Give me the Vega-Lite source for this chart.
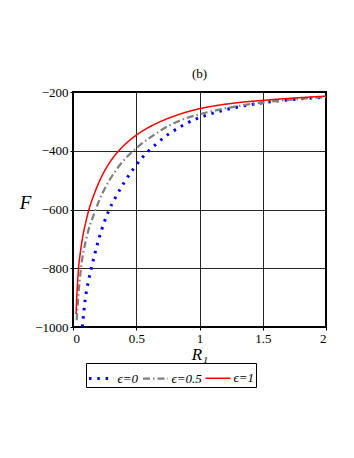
{
  "$schema": "https://vega.github.io/schema/vega-lite/v6.json",
  "width": 253,
  "height": 235,
  "autosize": {"type": "none"},
  "padding": {"left": 73, "top": 92, "right": 28, "bottom": 131},
  "background": "white",
  "title": {"text": "(b)", "font": "Times New Roman, Liberation Serif, DejaVu Serif, serif", "fontSize": 13, "fontWeight": "normal", "color": "black", "offset": 5},
  "data": {"values": [
    {"R": 0.074, "F": -1000, "eps": "ϵ=0"},
    {"R": 0.097, "F": -905, "eps": "ϵ=0"},
    {"R": 0.12, "F": -848, "eps": "ϵ=0"},
    {"R": 0.145, "F": -800, "eps": "ϵ=0"},
    {"R": 0.203, "F": -702, "eps": "ϵ=0"},
    {"R": 0.282, "F": -605, "eps": "ϵ=0"},
    {"R": 0.34, "F": -556, "eps": "ϵ=0"},
    {"R": 0.406, "F": -507, "eps": "ϵ=0"},
    {"R": 0.477, "F": -462, "eps": "ϵ=0"},
    {"R": 0.55, "F": -422, "eps": "ϵ=0"},
    {"R": 0.65, "F": -380, "eps": "ϵ=0"},
    {"R": 0.75, "F": -345, "eps": "ϵ=0"},
    {"R": 0.85, "F": -318, "eps": "ϵ=0"},
    {"R": 0.95, "F": -296, "eps": "ϵ=0"},
    {"R": 1.056, "F": -279, "eps": "ϵ=0"},
    {"R": 1.249, "F": -256, "eps": "ϵ=0"},
    {"R": 1.447, "F": -240, "eps": "ϵ=0"},
    {"R": 1.644, "F": -229, "eps": "ϵ=0"},
    {"R": 1.842, "F": -222, "eps": "ϵ=0"},
    {"R": 2.0, "F": -218, "eps": "ϵ=0"},
    {"R": 0.029, "F": -977, "eps": "ϵ=0.5"},
    {"R": 0.041, "F": -900, "eps": "ϵ=0.5"},
    {"R": 0.063, "F": -800, "eps": "ϵ=0.5"},
    {"R": 0.105, "F": -700, "eps": "ϵ=0.5"},
    {"R": 0.178, "F": -602, "eps": "ϵ=0.5"},
    {"R": 0.208, "F": -568, "eps": "ϵ=0.5"},
    {"R": 0.261, "F": -521, "eps": "ϵ=0.5"},
    {"R": 0.34, "F": -466, "eps": "ϵ=0.5"},
    {"R": 0.445, "F": -413, "eps": "ϵ=0.5"},
    {"R": 0.52, "F": -384, "eps": "ϵ=0.5"},
    {"R": 0.62, "F": -352, "eps": "ϵ=0.5"},
    {"R": 0.761, "F": -314, "eps": "ϵ=0.5"},
    {"R": 0.87, "F": -293, "eps": "ϵ=0.5"},
    {"R": 1.0, "F": -276, "eps": "ϵ=0.5"},
    {"R": 1.25, "F": -252, "eps": "ϵ=0.5"},
    {"R": 1.5, "F": -236, "eps": "ϵ=0.5"},
    {"R": 1.75, "F": -225, "eps": "ϵ=0.5"},
    {"R": 2.0, "F": -217, "eps": "ϵ=0.5"},
    {"R": 0.024, "F": -956, "eps": "ϵ=1"},
    {"R": 0.032, "F": -880, "eps": "ϵ=1"},
    {"R": 0.042, "F": -810, "eps": "ϵ=1"},
    {"R": 0.06, "F": -740, "eps": "ϵ=1"},
    {"R": 0.08, "F": -685, "eps": "ϵ=1"},
    {"R": 0.1, "F": -645, "eps": "ϵ=1"},
    {"R": 0.123, "F": -605, "eps": "ϵ=1"},
    {"R": 0.163, "F": -553, "eps": "ϵ=1"},
    {"R": 0.213, "F": -500, "eps": "ϵ=1"},
    {"R": 0.281, "F": -446, "eps": "ϵ=1"},
    {"R": 0.36, "F": -401, "eps": "ϵ=1"},
    {"R": 0.43, "F": -371, "eps": "ϵ=1"},
    {"R": 0.5, "F": -347, "eps": "ϵ=1"},
    {"R": 0.6, "F": -320, "eps": "ϵ=1"},
    {"R": 0.7, "F": -299, "eps": "ϵ=1"},
    {"R": 0.8, "F": -282, "eps": "ϵ=1"},
    {"R": 0.9, "F": -268, "eps": "ϵ=1"},
    {"R": 1.0, "F": -257, "eps": "ϵ=1"},
    {"R": 1.25, "F": -239, "eps": "ϵ=1"},
    {"R": 1.5, "F": -228.5, "eps": "ϵ=1"},
    {"R": 1.75, "F": -220.5, "eps": "ϵ=1"},
    {"R": 2.0, "F": -214, "eps": "ϵ=1"}
  ]},
  "mark": {"type": "line", "interpolate": "monotone", "clip": true, "strokeCap": "butt"},
  "encoding": {
    "x": {"field": "R", "type": "quantitative",
      "scale": {"domain": [0, 2], "nice": false},
      "axis": {"values": [0, 0.5, 1, 1.5, 2], "format": "~g", "title": "R₁", "titlePadding": 1, "titleFontSize": 17}},
    "y": {"field": "F", "type": "quantitative",
      "scale": {"domain": [-1000, -200], "nice": false},
      "axis": {"values": [-1000, -800, -600, -400, -200], "format": "d", "title": "F", "titleAngle": 0, "titleX": -48, "titleY": 110, "titleAlign": "center", "titleBaseline": "middle", "titleFontSize": 19}},
    "color": {"field": "eps", "type": "nominal",
      "scale": {"domain": ["ϵ=0", "ϵ=0.5", "ϵ=1"], "range": ["#0000ff", "#808080", "#ff0000"]},
      "legend": {"title": null}},
    "strokeDash": {"field": "eps", "type": "nominal",
      "scale": {"domain": ["ϵ=0", "ϵ=0.5", "ϵ=1"], "range": [[2.5, 5.8], [7, 3, 1.5, 3], [1, 0]]},
      "legend": {"title": null}},
    "strokeWidth": {"field": "eps", "type": "nominal",
      "scale": {"domain": ["ϵ=0", "ϵ=0.5", "ϵ=1"], "range": [3, 1.5, 2]},
      "legend": {"title": null}}
  },
  "config": {
    "view": {"stroke": "black", "strokeWidth": 2},
    "axis": {
      "labelFont": "Times New Roman, Liberation Serif, DejaVu Serif, serif", "labelFontSize": 13, "labelColor": "black",
      "titleFont": "Times New Roman, Liberation Serif, DejaVu Serif, serif", "titleFontStyle": "italic", "titleFontWeight": "normal", "titleColor": "black",
      "domain": false, "grid": true, "gridColor": "#000000", "gridWidth": 1, "gridOpacity": 0.85,
      "tickColor": "black", "tickSize": 3, "labelPadding": 2
    },
    "legend": {
      "orient": "none", "legendX": 13, "legendY": 271, "direction": "horizontal",
      "strokeColor": "black", "padding": 1.5,
      "labelFont": "Times New Roman, Liberation Serif, DejaVu Serif, serif", "labelFontStyle": "italic", "labelFontSize": 13, "labelColor": "black",
      "symbolType": "stroke", "symbolSize": 625, "columnPadding": 0, "labelOffset": 2
    }
  }
}
